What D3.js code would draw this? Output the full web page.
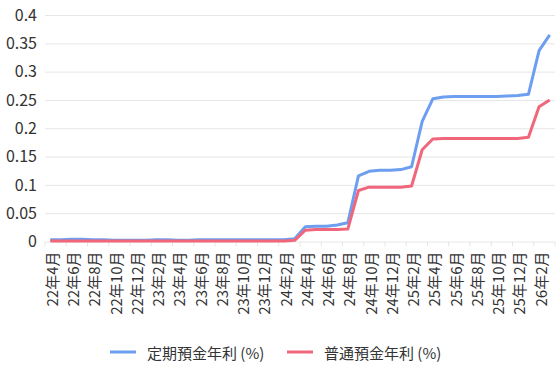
<!DOCTYPE html>
<html>
<head>
<meta charset="utf-8">
<script src="https://cdn.jsdelivr.net/npm/d3@7"></script>
<style>
  body { margin: 0; background: #fff; }
  text { font-family: "Noto Sans CJK JP", "Noto Sans", sans-serif; fill: #333; }
</style>
</head>
<body>
<svg id="chart"></svg>
<script>
// months shown on the x axis (one point per month)
const months = [
  '22年4月','22年5月','22年6月','22年7月','22年8月','22年9月','22年10月','22年11月','22年12月',
  '23年1月','23年2月','23年3月','23年4月','23年5月','23年6月','23年7月','23年8月','23年9月','23年10月','23年11月','23年12月',
  '24年1月','24年2月','24年3月','24年4月','24年5月','24年6月','24年7月','24年8月','24年9月','24年10月','24年11月','24年12月',
  '25年1月','25年2月','25年3月','25年4月','25年5月','25年6月','25年7月','25年8月','25年9月','25年10月','25年11月','25年12月',
  '26年1月','26年2月','26年3月'
];

// 定期預金年利 (%)
const teikiRates = [
  0.003, 0.003, 0.004, 0.004, 0.003, 0.003, 0.002, 0.002, 0.002, 0.002, 0.003, 0.003,
  0.002, 0.002, 0.003, 0.003, 0.003, 0.003, 0.003, 0.003, 0.003, 0.003, 0.003, 0.005,
  0.026, 0.027, 0.027, 0.029, 0.033, 0.116, 0.124, 0.126, 0.126, 0.127, 0.132, 0.212,
  0.252, 0.255, 0.256, 0.256, 0.256, 0.256, 0.256, 0.257, 0.258, 0.260, 0.337, 0.365
];

// 普通預金年利 (%)
const futsuRates = [
  0.001, 0.001, 0.001, 0.001, 0.001, 0.001, 0.001, 0.001, 0.001, 0.001, 0.001, 0.001,
  0.001, 0.001, 0.001, 0.001, 0.001, 0.001, 0.001, 0.001, 0.001, 0.001, 0.001, 0.002,
  0.020, 0.021, 0.021, 0.021, 0.022, 0.090, 0.096, 0.096, 0.096, 0.096, 0.098, 0.162,
  0.181, 0.182, 0.182, 0.182, 0.182, 0.182, 0.182, 0.182, 0.182, 0.184, 0.238, 0.250
];

const seriesNames = ['定期預金年利 (%)', '普通預金年利 (%)'];
const seriesColors = ['#6d9eef', '#f0677c'];
const yTicks = [0, 0.05, 0.1, 0.15, 0.2, 0.25, 0.3, 0.35, 0.4];

const width = 560, height = 377;
const margin = {top: 15, right: 5, bottom: 135.5, left: 45};

const svg = d3.select('#chart')
    .attr('width', width)
    .attr('height', height);

const xScale = d3.scaleBand()
    .domain(months)
    .range([margin.left, width - margin.right]);

const yScale = d3.scaleLinear()
    .domain([0, 0.4])
    .range([height - margin.bottom, margin.top]);

const xMid = m => xScale(m) + xScale.bandwidth() / 2;

// horizontal grid lines + y labels
const yAxisG = svg.append('g')
    .attr('transform', `translate(${margin.left},0)`)
    .call(d3.axisLeft(yScale)
        .tickValues(yTicks)
        .tickSize(-(width - margin.left - margin.right))
        .tickPadding(8)
        .tickFormat(d => String(+d.toFixed(2))))
    .call(g => g.select('.domain').remove());

yAxisG.selectAll('.tick line')
    .attr('stroke', '#e6e6e6');
yAxisG.selectAll('.tick text')
    .attr('font-size', 16)
    .attr('fill', '#333');

// x axis: ticks on band edges of every other month, labels at band centres
const labelled = months.filter((m, i) => i % 2 === 0);
const y0 = yScale(0);

svg.append('g')
    .selectAll('line')
    .data(labelled.map(m => xScale(m)).concat([width - margin.right]))
  .join('line')
    .attr('x1', d => d)
    .attr('x2', d => d)
    .attr('y1', y0)
    .attr('y2', y0 + 5)
    .attr('stroke', '#e6e6e6');

svg.append('g')
    .selectAll('text')
    .data(labelled)
  .join('text')
    .attr('transform', m => `translate(${xMid(m) + 1},${y0 + 10}) rotate(-90)`)
    .attr('text-anchor', 'end')
    .attr('dominant-baseline', 'central')
    .attr('font-size', 15)
    .text(m => m);

// lines
const line = d3.line()
    .x((d, i) => xMid(months[i]))
    .y(d => yScale(d));

svg.append('g')
    .selectAll('path')
    .data([teikiRates, futsuRates])
  .join('path')
    .attr('d', line)
    .attr('fill', 'none')
    .attr('stroke', (d, i) => seriesColors[i])
    .attr('stroke-width', 3)
    .attr('stroke-linejoin', 'round');

// legend
const legend = svg.append('g')
    .attr('transform', 'translate(0,352)');

const legendX = [110, 287];
const item = legend.selectAll('g')
    .data(seriesNames)
  .join('g')
    .attr('transform', (d, i) => `translate(${legendX[i]},0)`);

item.append('line')
    .attr('x1', 0)
    .attr('x2', 26)
    .attr('stroke', (d, i) => seriesColors[i])
    .attr('stroke-width', 3);

item.append('text')
    .attr('x', 37)
    .attr('dominant-baseline', 'central')
    .attr('font-size', 15)
    .text(d => d);
</script>
</body>
</html>
